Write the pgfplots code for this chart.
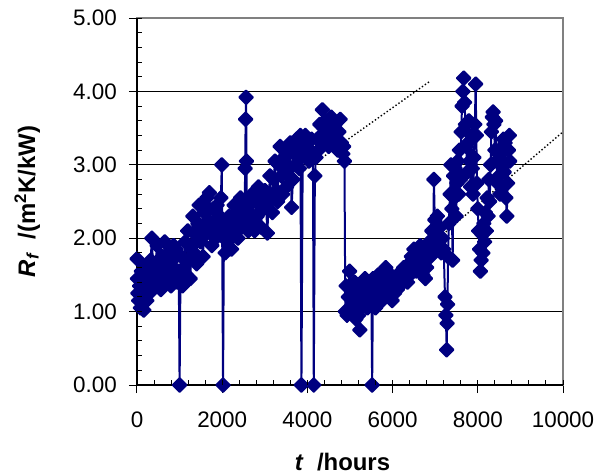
\documentclass[border=0pt]{standalone}
\usepackage{fontspec}
\setmainfont{Liberation Sans}
\usepackage{pgfplots}
\usepackage{pgfplotstable}
\pgfplotsset{compat=1.18}
\definecolor{navy}{RGB}{0,0,128}

% fouling resistance vs time
\pgfplotstableread{
t R
0 1.72
10 1.45
20 1.25
40 1.15
60 1.35
80 1.05
100 1.55
120 1.20
140 1.40
160 1.02
180 1.62
200 1.30
230 1.15
260 1.45
290 1.25
320 1.70
350 2.00
380 1.55
410 1.35
440 1.65
470 1.90
500 1.45
530 1.60
560 1.30
590 1.75
620 1.50
650 1.95
680 1.60
710 1.40
740 1.80
770 1.55
800 1.35
830 1.70
860 1.90
890 1.50
920 1.85
950 1.40
980 1.55
1000 0.00
1020 1.45
1040 1.75
1070 1.35
1100 1.60
1130 1.95
1160 1.50
1190 2.10
1220 1.70
1250 1.45
1280 1.90
1310 2.30
1340 1.80
1370 2.05
1400 1.65
1430 2.20
1460 2.45
1490 1.95
1520 2.15
1550 1.75
1580 2.35
1610 2.05
1640 2.55
1670 2.25
1700 2.62
1730 2.10
1760 1.90
1790 2.40
1820 2.20
1850 2.00
1880 2.45
1910 2.15
1940 2.30
1970 2.55
1990 3.00
2020 0.00
2040 2.05
2070 1.80
2100 2.25
2130 1.95
2160 2.30
2190 2.05
2220 1.85
2250 2.20
2280 2.45
2310 2.10
2340 2.35
2370 2.00
2400 2.25
2430 2.55
2460 2.15
2490 2.40
2520 2.20
2540 2.95
2550 3.62
2560 3.92
2570 3.05
2580 2.30
2610 2.10
2640 2.45
2670 2.20
2700 2.60
2730 2.30
2760 2.10
2790 2.50
2820 2.30
2850 2.70
2880 2.35
2910 2.15
2940 2.55
2970 2.40
3000 2.65
3030 2.45
3060 2.07
3090 2.50
3120 2.85
3150 2.55
3180 2.35
3210 2.80
3240 3.05
3270 2.65
3300 2.50
3330 3.00
3360 3.25
3390 2.85
3420 2.60
3450 3.10
3480 2.90
3510 2.70
3540 3.15
3570 2.95
3600 3.30
3630 2.42
3660 2.80
3690 3.20
3720 3.00
3750 3.35
3780 3.10
3810 2.95
3835 3.40
3860 0.00
3890 3.15
3920 3.25
3950 3.40
3980 3.15
4010 3.30
4040 3.05
4070 3.20
4100 3.35
4130 3.10
4150 0.00
4175 2.85
4200 3.10
4230 3.35
4260 3.20
4290 3.55
4320 3.40
4350 3.75
4380 3.50
4410 3.30
4440 3.60
4470 3.45
4500 3.25
4530 3.50
4560 3.65
4590 3.40
4620 3.30
4650 3.55
4680 3.35
4710 3.20
4740 3.45
4770 3.62
4800 3.30
4830 3.15
4850 3.25
4870 3.05
4890 1.00
4910 1.35
4930 0.95
4960 1.20
4990 1.55
5020 1.05
5050 1.30
5080 1.10
5110 1.40
5140 0.90
5170 1.20
5200 0.95
5230 0.75
5260 1.05
5290 1.35
5320 1.15
5350 1.45
5380 1.25
5410 1.05
5440 1.40
5470 1.20
5500 1.30
5520 0.00
5540 1.45
5570 1.20
5600 1.05
5630 1.35
5660 1.50
5690 1.25
5720 1.40
5750 1.15
5780 1.55
5810 1.35
5840 1.60
5870 1.30
5900 1.45
5930 1.20
5960 1.50
5990 1.15
6020 1.35
6050 1.25
6080 1.45
6110 1.30
6140 1.50
6170 1.35
6200 1.55
6230 1.40
6260 1.60
6290 1.45
6320 1.55
6350 1.40
6380 1.65
6410 1.50
6440 1.75
6470 1.60
6500 1.85
6530 1.70
6560 1.55
6590 1.80
6620 1.65
6650 1.90
6680 1.60
6710 1.50
6740 1.75
6770 1.45
6800 1.60
6830 1.85
6860 1.95
6890 1.75
6920 2.10
6950 1.90
6970 2.80
6990 2.25
7020 2.00
7050 2.30
7080 1.95
7110 2.15
7140 1.80
7170 2.00
7200 1.85
7230 1.20
7250 0.95
7270 0.48
7280 0.84
7290 1.10
7300 1.75
7320 2.20
7350 2.60
7370 3.00
7390 2.40
7410 1.70
7430 2.85
7450 2.55
7470 2.95
7490 2.30
7510 2.75
7530 3.05
7550 2.60
7570 3.20
7590 2.80
7610 3.45
7630 3.80
7650 4.00
7670 4.18
7690 3.85
7710 3.55
7730 3.25
7750 2.90
7770 3.30
7790 3.60
7810 3.05
7830 2.70
7850 3.40
7870 2.95
7890 2.60
7910 3.10
7930 3.55
7950 4.10
7965 3.40
7980 2.75
8000 2.40
8020 2.10
8040 1.85
8060 1.55
8080 1.70
8100 2.05
8120 1.80
8140 2.20
8160 1.95
8180 2.35
8200 2.10
8220 2.55
8240 2.30
8260 2.80
8280 2.50
8300 3.00
8320 3.45
8340 3.65
8360 3.72
8380 3.55
8400 3.20
8420 3.60
8440 3.05
8460 2.75
8480 3.15
8500 2.85
8520 2.60
8540 3.00
8560 2.70
8580 3.25
8600 3.35
8620 2.90
8640 3.30
8660 2.55
8680 2.30
8700 2.75
8720 3.20
8740 3.40
8750 3.05
}\rf

\begin{document}
\begin{tikzpicture}
\begin{axis}[
    scale only axis,
    width=426bp, height=367bp,
    xmin=0, xmax=10000,
    ymin=0, ymax=5,
    xtick={0,2000,...,10000},
    ytick={0,1,...,5},
    tick pos=left,
    tick align=outside,
    major tick length=8bp,
    tick style={black, line width=1bp},
    scaled x ticks=false,
    xticklabel style={/pgf/number format/1000 sep={}, inner sep=0pt, yshift=-19bp},
    yticklabel style={/pgf/number format/fixed, /pgf/number format/fixed zerofill,
        /pgf/number format/precision=2, inner sep=0pt, xshift=-12bp},
    /pgf/number format/assume math mode=true,
    every tick label/.append style={font=\fontsize{22.5}{26}\selectfont},
    ymajorgrids,
    major grid style={black, line width=1bp},
    axis line style={draw=gray, line width=1.2bp},
    xlabel={\textit{t}\ \ /hours},
    ylabel={\textit{R}\textsubscript{\textit{f}}\ \ /(m\textsuperscript{2}K/kW)},
    label style={font=\fontsize{24}{28}\selectfont\bfseries},
    xlabel style={at={(axis description cs:0.4824,-0.2343)}, anchor=base},
    ylabel style={at={(axis description cs:-0.2394,0.5)}, anchor=base},
    clip=false,
]
\addplot[navy, line width=2bp, line join=round,
    mark=square*, mark size=4.8bp,
    mark options={rotate=45, fill=navy, draw=navy, solid}]
    table[x=t, y=R] {\rf};
\addplot[black, line width=1.4bp, dash pattern=on 1.4bp off 2.2bp]
    coordinates {(0,1.31) (6880,4.14)};
\addplot[black, line width=1.4bp, dash pattern=on 1.4bp off 2.2bp]
    coordinates {(5000,0.97) (10000,3.45)};
\draw[black, line width=1.3bp] (rel axis cs:0,1) -- (rel axis cs:0,0) -- (rel axis cs:1,0);
\end{axis}
% inner minor ticks, as in the reference
\begin{axis}[
    scale only axis,
    width=426bp, height=367bp,
    xmin=0, xmax=10000,
    ymin=0, ymax=5,
    xtick={0,400,...,10000},
    ytick={0,0.2,...,5},
    scaled ticks=false,
    xticklabels={}, yticklabels={},
    tick pos=left,
    tick align=inside,
    major tick length=5bp,
    tick style={black, line width=1bp},
    axis line style={draw=none},
]
\end{axis}
\path (current axis.south west) ++(-137bp,-89bp) rectangle ++(599bp,474bp);
\end{tikzpicture}
\end{document}
